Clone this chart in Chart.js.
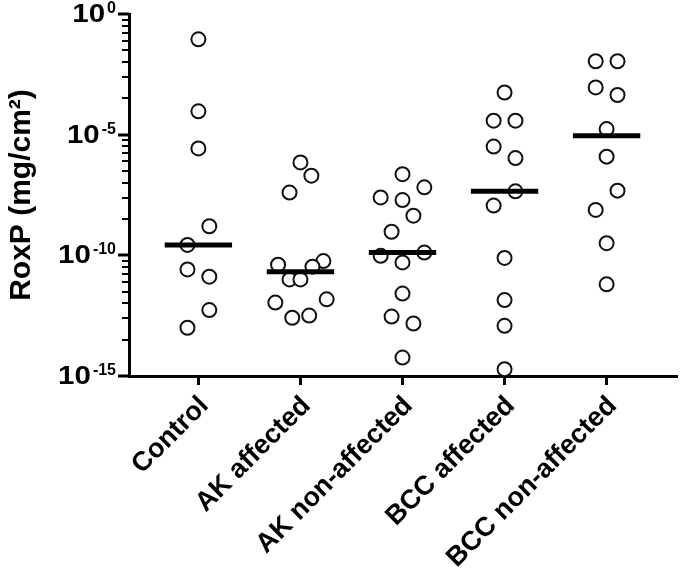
<!DOCTYPE html>
<html>
<head>
<meta charset="utf-8">
<script src="https://cdn.jsdelivr.net/npm/chart.js@4.4.1/dist/chart.umd.min.js"></script>
<style>
  html, body { margin: 0; padding: 0; background: #fff; }
  #wrap { width: 685px; height: 573px; position: relative; }
</style>
</head>
<body>
<div id="wrap"><canvas id="myChart" width="685" height="573"></canvas></div>
<script>
'use strict';

// groups on the x axis
const groups = ['Control', 'AK affected', 'AK non-affected', 'BCC affected', 'BCC non-affected'];

// RoxP values (mg/cm2), one array per group
const control = [8.9e-2, 9.3e-5, 2.7e-6, 1.6e-9, 2.7e-10, 2.6e-11, 1.3e-11, 5.4e-13, 1.0e-13];
const akAffected = [7.1e-7, 2.0e-7, 4.0e-8, 5.8e-11, 4.1e-11, 3.4e-11, 1.0e-11, 1.0e-11, 1.5e-12, 1.1e-12, 2.6e-13, 3.2e-13];
const akNonAffected = [2.3e-7, 6.6e-8, 2.5e-8, 1.95e-8, 4.4e-9, 9.5e-10, 1.3e-10, 9.5e-11, 5.1e-11, 2.6e-12, 2.9e-13, 1.5e-13, 5.8e-15];
const bccAffected = [5.6e-4, 3.8e-5, 3.8e-5, 3.2e-6, 1.07e-6, 4.5e-8, 1.15e-8, 7.8e-11, 1.4e-12, 1.2e-13, 1.9e-15];
const bccNonAffected = [1.1e-2, 1.1e-2, 9.1e-4, 4.4e-4, 1.7e-5, 1.23e-6, 4.8e-8, 7.6e-9, 3.2e-10, 6.3e-12];

// horizontal spread of each point (in point-width slots, as in the picture)
const controlSpread = [0, 0, 0, 1, -1, -1, 1, 1, -1];
const akAffectedSpread = [0, 1, -1, 2.1, -2.05, 1.1, -1, 0, 2.4, -2.3, -0.75, 0.8];
const akNonAffectedSpread = [0, 2, -2, 0, 1, -1, 2, -2, 0, 0, -1, 1, 0];
const bccAffectedSpread = [0, -1, 1, -1, 1, 1, -1, 0, 0, 0, 0];
const bccNonAffectedSpread = [-1, 1, -1, 1, 0, 0, 1, -1, 0, 0];

// median of each group
const medians = [2.7e-10, 2.1e-11, 1.3e-10, 4.5e-8, 9.1e-6];

// y axis labelled decades (powers of ten)
const yTickExps = [0, -5, -10, -15];

const allValues = [control, akAffected, akNonAffected, bccAffected, bccNonAffected];
const allSpread = [controlSpread, akAffectedSpread, akNonAffectedSpread, bccAffectedSpread, bccNonAffectedSpread];

const FONT = '"Liberation Sans", Arial, sans-serif';
const slot = 0.107; //       width of one spread slot in group units
const halfBar = 0.33; //     half width of median bar

let datasets = [];

// median bars, drawn on top
for (let i = 0; i < groups.length; i++) {
  datasets.push({
    type: 'line',
    data: [{x: i - halfBar, y: medians[i]}, {x: i + halfBar, y: medians[i]}],
    borderColor: '#000',
    borderWidth: 5,
    borderCapStyle: 'butt',
    pointRadius: 0,
    order: 0
  });
}

// open circle points
for (let i = 0; i < groups.length; i++) {
  let pts = [];
  for (let j = 0; j < allValues[i].length; j++) {
    pts.push({x: i + allSpread[i][j] * slot, y: allValues[i][j]});
  }
  datasets.push({
    type: 'scatter',
    label: groups[i],
    data: pts,
    pointRadius: 7,
    pointBorderWidth: 2,
    pointBorderColor: '#111',
    pointBackgroundColor: '#fff',
    order: 1
  });
}

// draws y axis ticks and 10^n labels from the log scale
const yAxisPlugin = {
  id: 'yAxisPlugin',
  afterDraw(chart) {
    const ctx = chart.ctx;
    const y = chart.scales.y;
    const xAxis = chart.chartArea.left;
    ctx.save();
    ctx.fillStyle = '#000';
    // minor ticks between labelled decades
    for (let k = 0; k < yTickExps.length - 1; k++) {
      const low = yTickExps[k + 1];
      for (let m = 2; m <= 9; m++) {
        const py = Math.round(y.getPixelForValue(Math.pow(10, low) * Math.pow(m, 5)));
        ctx.fillRect(xAxis - 7, py - 1, 7, 2);
      }
    }
    // major ticks and labels
    for (let k = 0; k < yTickExps.length; k++) {
      const py = Math.round(y.getPixelForValue(Math.pow(10, yTickExps[k])));
      ctx.fillRect(xAxis - 11, py - 1.5, 11, 3);
      const sup = String(yTickExps[k]);
      ctx.font = 'bold 16px ' + FONT;
      ctx.textAlign = 'right';
      ctx.textBaseline = 'alphabetic';
      const supW = ctx.measureText(sup).width;
      const supRight = xAxis - 13;
      ctx.fillText(sup, supRight, py - 1);
      // base "10", a little wider as in the picture
      ctx.save();
      ctx.translate(supRight - supW - 2, py + 1);
      ctx.scale(1.18, 1);
      ctx.font = 'bold 25px ' + FONT;
      ctx.textBaseline = 'middle';
      ctx.fillText('10', 0, 0);
      ctx.restore();
    }
    // axis title
    ctx.translate(22, (chart.chartArea.top + chart.chartArea.bottom) / 2);
    ctx.rotate(-Math.PI / 2);
    ctx.textAlign = 'center';
    ctx.textBaseline = 'middle';
    ctx.font = 'bold 30px ' + FONT;
    ctx.fillText('RoxP (mg/cm\u00B2)', 0, 0);
    ctx.restore();
  }
};

const ctx = document.getElementById('myChart').getContext('2d');
const chart = new Chart(ctx, {
  data: {datasets: datasets},
  options: {
    responsive: false,
    animation: false,
    layout: {padding: {top: 14, right: 1, left: 0, bottom: 0}},
    plugins: {legend: {display: false}, tooltip: {enabled: false}},
    scales: {
      x: {
        type: 'linear',
        min: -0.68,
        max: 4.68,
        afterBuildTicks: (scale) => {
          scale.ticks = groups.map((g, i) => ({value: i}));
        },
        afterFit: (scale) => { scale.height = 197; },
        ticks: {
          autoSkip: false,
          minRotation: 45,
          maxRotation: 45,
          padding: 5,
          labelOffset: 6,
          color: '#000',
          font: {family: FONT, size: 27, weight: 'bold'},
          callback: (v) => groups[v]
        },
        grid: {drawOnChartArea: false, tickLength: 9, lineWidth: 3, color: '#000'},
        border: {display: true, width: 3, color: '#000'}
      },
      y: {
        type: 'logarithmic',
        min: 1e-15,
        max: 1,
        afterFit: (scale) => { scale.width = 129; },
        ticks: {display: false},
        grid: {drawOnChartArea: false, drawTicks: false, color: 'rgba(0,0,0,0)'},
        border: {display: true, width: 3, color: '#000'}
      }
    }
  },
  plugins: [yAxisPlugin]
});
</script>
</body>
</html>
